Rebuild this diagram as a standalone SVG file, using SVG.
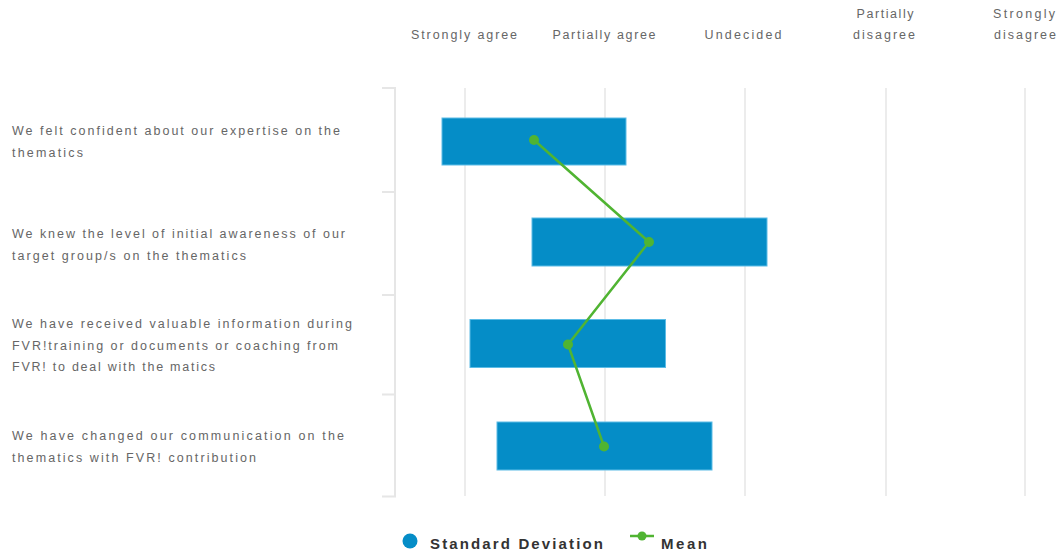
<svg xmlns="http://www.w3.org/2000/svg" width="1058" height="555" viewBox="0 0 1058 555">
<style>
.lbl{font-family:"Liberation Sans",Arial,sans-serif;font-size:12.5px;fill:#666}
.hdr{font-family:"Liberation Sans",Arial,sans-serif;font-size:12.5px;fill:#666;text-anchor:middle}
.grid{stroke:#e6e6e6;stroke-width:1.5}
.axis{stroke:#e6e6e6;stroke-width:2;fill:none}
.bar{fill:#058dc7;stroke:#5cbce6;stroke-width:1}
.leg{font-family:"Liberation Sans",Arial,sans-serif;font-size:15px;font-weight:bold;fill:#333}
</style>
<rect width="1058" height="555" fill="#fff"/>
<g id="grid">
<line class="grid" x1="465" y1="88" x2="465" y2="496"/>
<line class="grid" x1="605" y1="88" x2="605" y2="496"/>
<line class="grid" x1="745" y1="88" x2="745" y2="496"/>
<line class="grid" x1="886" y1="88" x2="886" y2="496"/>
<line class="grid" x1="1025" y1="88" x2="1025" y2="496"/>
<path class="axis" d="M382 88H395V496.5H382M382 192H395M382 295H395M382 394.5H395"/>
</g>
<g id="headers">
<text class="hdr" x="464" y="39" textLength="106" lengthAdjust="spacing">Strongly agree</text>
<text class="hdr" x="604" y="39" textLength="103" lengthAdjust="spacing">Partially agree</text>
<text class="hdr" x="743" y="39" textLength="77" lengthAdjust="spacing">Undecided</text>
<text class="hdr" x="885" y="18" textLength="57" lengthAdjust="spacing">Partially</text>
<text class="hdr" x="884" y="39" textLength="62" lengthAdjust="spacing">disagree</text>
<text class="hdr" x="1024" y="18" textLength="62" lengthAdjust="spacing">Strongly</text>
<text class="hdr" x="1025" y="39" textLength="62" lengthAdjust="spacing">disagree</text>
</g>
<g id="row1">
<text class="lbl" x="12" y="135" textLength="328" lengthAdjust="spacing">We felt confident about our expertise on the</text>
<text class="lbl" x="12" y="157" textLength="71" lengthAdjust="spacing">thematics</text>
<rect class="bar" x="442" y="118" width="184" height="47"/>
</g>
<g id="row2">
<text class="lbl" x="12" y="238" textLength="333" lengthAdjust="spacing">We knew the level of initial awareness of our</text>
<text class="lbl" x="12" y="260" textLength="234" lengthAdjust="spacing">target group/s on the thematics</text>
<rect class="bar" x="532" y="218" width="235" height="48"/>
</g>
<g id="row3">
<text class="lbl" x="12" y="328" textLength="340" lengthAdjust="spacing">We have received valuable information during</text>
<text class="lbl" x="12" y="350" textLength="326" lengthAdjust="spacing">FVR!training or documents or coaching from</text>
<text class="lbl" x="12" y="371" textLength="203" lengthAdjust="spacing">FVR! to deal with the matics</text>
<rect class="bar" x="470" y="319.5" width="195.5" height="48"/>
</g>
<g id="row4">
<text class="lbl" x="12" y="440" textLength="332" lengthAdjust="spacing">We have changed our communication on the</text>
<text class="lbl" x="12" y="462" textLength="244" lengthAdjust="spacing">thematics with FVR! contribution</text>
<rect class="bar" x="497" y="422" width="215" height="48"/>
</g>
<g id="mean">
<polyline points="534,140 649,242 568,344.5 604,446.5" fill="none" stroke="#50b432" stroke-width="2.5"/>
<circle cx="534" cy="140" r="5" fill="#50b432"/>
<circle cx="649" cy="242" r="5" fill="#50b432"/>
<circle cx="568" cy="344.5" r="5" fill="#50b432"/>
<circle cx="604" cy="446.5" r="5" fill="#50b432"/>
</g>
<g id="legend">
<circle cx="410" cy="541" r="7.5" fill="#058dc7"/>
<text class="leg" x="430" y="549" textLength="173" lengthAdjust="spacing">Standard Deviation</text>
<line x1="630" y1="536" x2="654" y2="536" stroke="#50b432" stroke-width="2.5"/>
<circle cx="642" cy="536" r="4.5" fill="#50b432"/>
<text class="leg" x="661" y="549" textLength="46" lengthAdjust="spacing">Mean</text>
</g>
</svg>
